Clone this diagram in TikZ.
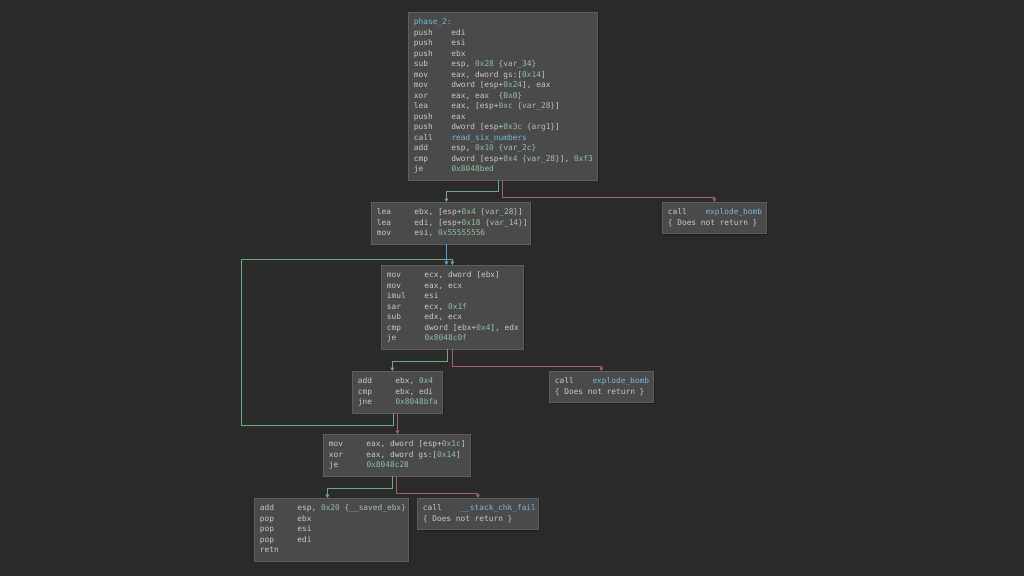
\documentclass[tikz,border=0pt]{standalone}
\usepackage{fontspec}
\usetikzlibrary{arrows.meta,shadows}

\newfontfamily\codefont{DejaVu Sans Mono}

\definecolor{bgc}{HTML}{2A2A2A}
\definecolor{blkfill}{HTML}{4A4A4A}
\definecolor{blkdraw}{HTML}{5E5E5E}
\definecolor{shadc}{HTML}{1F1F1F}
\definecolor{txtc}{HTML}{CACACA}
\definecolor{numc}{HTML}{8DC29E}
\definecolor{annc}{HTML}{A7C4AE}
\definecolor{symc}{HTML}{7CB8DE}
\definecolor{truec}{HTML}{6FA97B}
\definecolor{falsec}{HTML}{A85E68}
\definecolor{jmpc}{HTML}{5C9FD6}

% one line of code, mnemonic padded to 8 columns
\newcommand{\asmln}[1]{\mbox{\spaceskip=4.71pt\relax\xspaceskip=4.71pt\relax
    \rule[-3pt]{0pt}{10.5pt}#1}}
\newcommand{\ins}[2]{\asmln{\makebox[37.6pt][l]{#1}#2}}
\newcommand{\num}[1]{\textcolor{numc}{#1}}
\newcommand{\ann}[1]{\textcolor{annc}{#1}}
\newcommand{\sym}[1]{\textcolor{symc}{#1}}

\begin{document}
\begin{tikzpicture}[
        x=1pt, y=-1pt,
        blk/.style={draw=blkdraw, fill=blkfill, line width=0.8pt, anchor=north west,
            inner xsep=5.5pt, inner ysep=5pt, align=left, text width=#1, text=txtc,
            font=\codefont\fontsize{7.83}{10.5}\selectfont,
            general shadow={fill=shadc, shadow xshift=1.3pt, shadow yshift=-1.3pt}},
        cfedge/.style={line width=0.9pt, -{Triangle[width=4pt,length=3.5pt]}},
        tedge/.style={cfedge, draw=truec},
        fedge/.style={cfedge, draw=falsec},
        uedge/.style={cfedge, draw=jmpc}
    ]
    \useasboundingbox[fill=bgc] (0,0) rectangle (1024,576);

    % --- entry block ---
    \node[blk=178pt] (phase) at (408,12) {%
        \asmln{\sym{phase\_2:}}\\
        \ins{push}{edi}\\
        \ins{push}{esi}\\
        \ins{push}{ebx}\\
        \ins{sub}{esp, \num{0x28} \ann{\{var\_34\}}}\\
        \ins{mov}{eax, dword gs:[\num{0x14}]}\\
        \ins{mov}{dword [esp+\num{0x24}], eax}\\
        \ins{xor}{eax, eax\makebox[9.42pt]{}\ann{\{0x0\}}}\\
        \ins{lea}{eax, [esp+\num{0xc} \ann{\{var\_28\}}]}\\
        \ins{push}{eax}\\
        \ins{push}{dword [esp+\num{0x3c} \ann{\{arg1\}}]}\\
        \ins{call}{\sym{read\_six\_numbers}}\\
        \ins{add}{esp, \num{0x10} \ann{\{var\_2c\}}}\\
        \ins{cmp}{dword [esp+\num{0x4} \ann{\{var\_28\}}], \num{0xf3}}\\
        \ins{je}{\num{0x8048bed}}};

    % --- loop setup ---
    \node[blk=148pt] (setup) at (371,202) {%
        \ins{lea}{ebx, [esp+\num{0x4} \ann{\{var\_28\}}]}\\
        \ins{lea}{edi, [esp+\num{0x18} \ann{\{var\_14\}}]}\\
        \ins{mov}{esi, \num{0x55555556}}};
    \node[blk=93pt] (bombA) at (662,202) {%
        \ins{call}{\sym{explode\_bomb}}\\
        \asmln{\{ Does not return \}}};

    % --- loop body ---
    \node[blk=131pt] (body) at (381,265) {%
        \ins{mov}{ecx, dword [ebx]}\\
        \ins{mov}{eax, ecx}\\
        \ins{imul}{esi}\\
        \ins{sar}{ecx, \num{0x1f}}\\
        \ins{sub}{edx, ecx}\\
        \ins{cmp}{dword [ebx+\num{0x4}], edx}\\
        \ins{je}{\num{0x8048c0f}}};
    \node[blk=79pt] (incr) at (352,371) {%
        \ins{add}{ebx, \num{0x4}}\\
        \ins{cmp}{ebx, edi}\\
        \ins{jne}{\num{0x8048bfa}}};
    \node[blk=93pt] (bombB) at (549,371) {%
        \ins{call}{\sym{explode\_bomb}}\\
        \asmln{\{ Does not return \}}};

    % --- canary check and exit ---
    \node[blk=136pt] (canary) at (323,434) {%
        \ins{mov}{eax, dword [esp+\num{0x1c}]}\\
        \ins{xor}{eax, dword gs:[\num{0x14}]}\\
        \ins{je}{\num{0x8048c28}}};
    \node[blk=143pt] (epilog) at (254,498) {%
        \ins{add}{esp, \num{0x20} \ann{\{\_\_saved\_ebx\}}}\\
        \ins{pop}{ebx}\\
        \ins{pop}{esi}\\
        \ins{pop}{edi}\\
        \asmln{retn}};
    \node[blk=110pt] (chkfail) at (417,498) {%
        \ins{call}{\sym{\_\_stack\_chk\_fail}}\\
        \asmln{\{ Does not return \}}};

    % --- edges ---
    \coordinate (loopc) at (241,259);
    \draw[tedge] ([xshift=-4pt]phase.south) -- ++(0,11) -| ([xshift=-4.5pt]setup.north);
    \draw[fedge] (phase.south) -- ++(0,17) -| (bombA.north);
    \draw[uedge] ([xshift=-4.5pt]setup.south) -- ([xshift=-4.5pt]setup.south |- body.north);
    \draw[tedge] ([xshift=-5pt]body.south) -- ++(0,12) -| ([xshift=-5pt]incr.north);
    \draw[fedge] (body.south) -- ++(0,17) -| (bombB.north);
    \draw[tedge] ([xshift=-4pt]incr.south) -- ++(0,12) -| (loopc) -| (body.north);
    \draw[fedge] (incr.south) -- (incr.south |- canary.north);
    \draw[tedge] ([xshift=-4pt]canary.south) -- ++(0,12) -| ([xshift=-4pt]epilog.north);
    \draw[fedge] (canary.south) -- ++(0,17) -| (chkfail.north);
\end{tikzpicture}
\end{document}
